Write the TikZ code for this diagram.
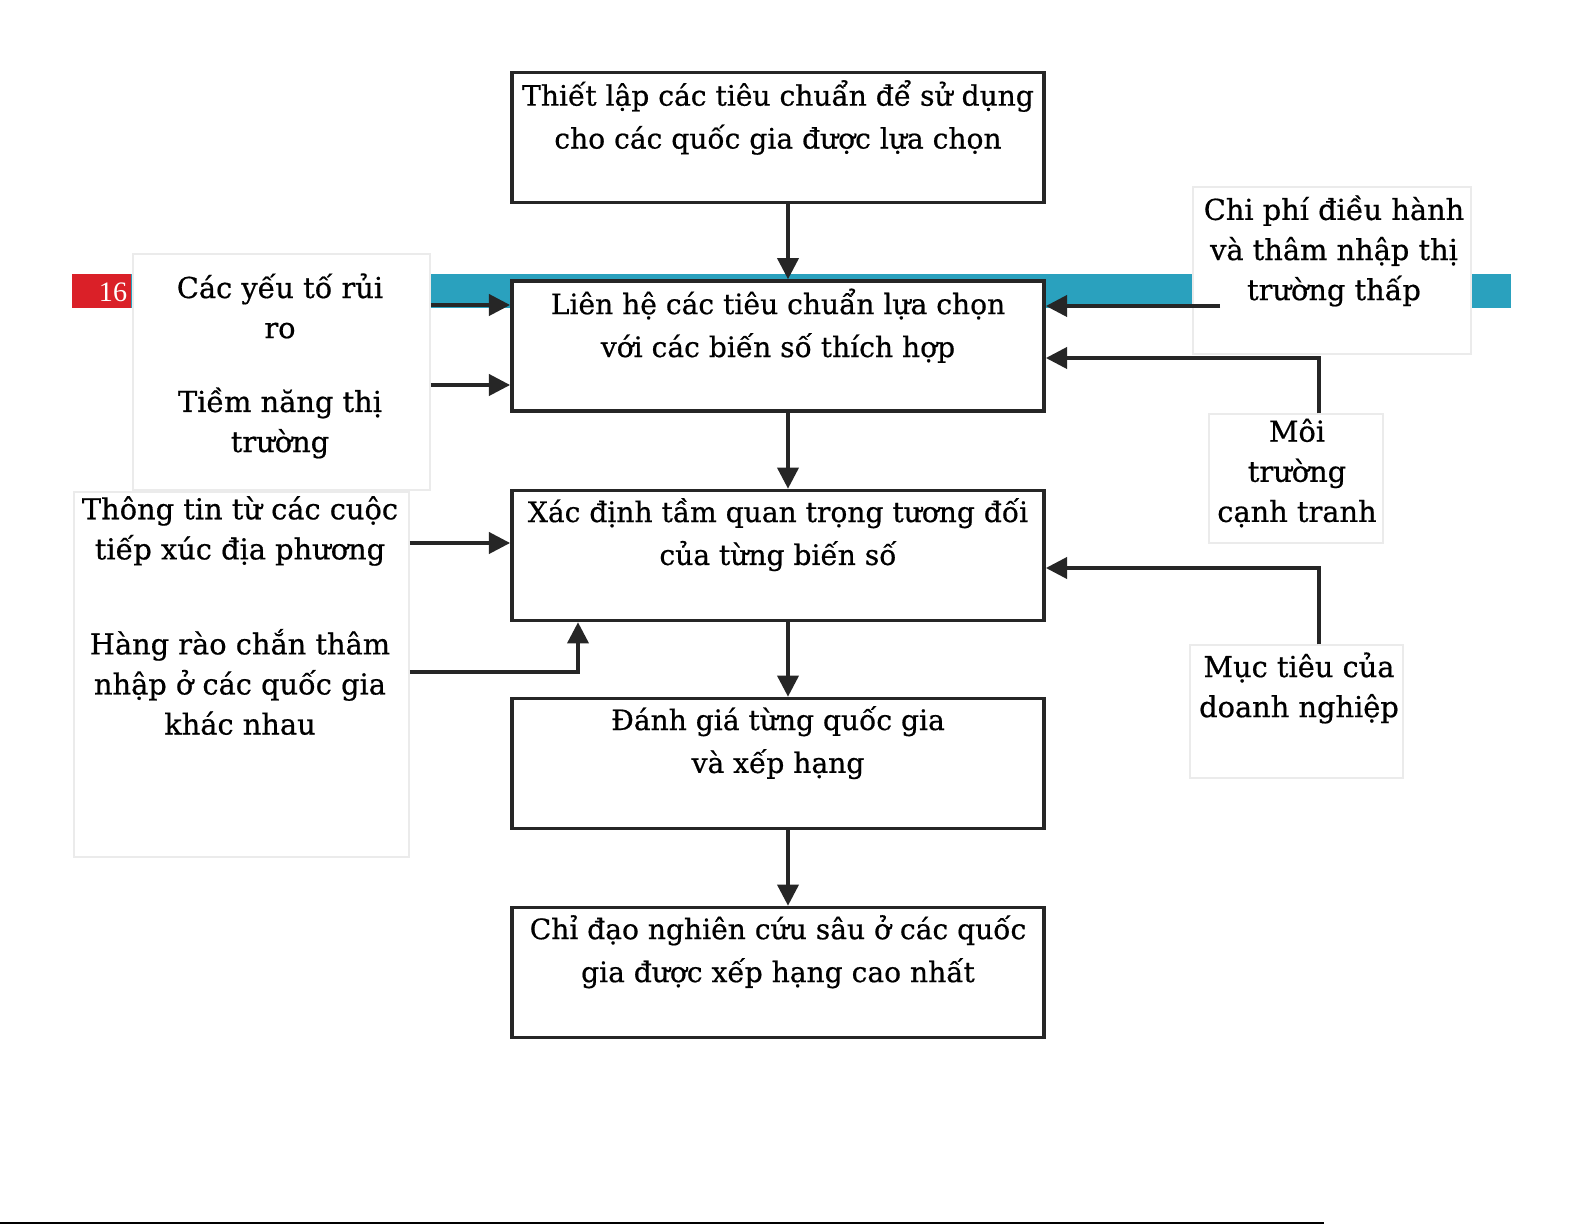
\documentclass[tikz,border=0pt]{standalone}
\usepackage{fontspec}
\setmainfont{DejaVu Serif}[UprightFeatures={FakeBold=0.6}]
\newfontfamily\pagenofont{Liberation Serif}
\usetikzlibrary{arrows.meta,positioning}
\definecolor{bandteal}{RGB}{42,161,190}
\definecolor{pagered}{RGB}{218,32,40}

\tikzset{
  stepbox/.style={draw=black!85, line width=1pt, fill=white,
    minimum width=5.32cm, minimum height=1.30cm},
  sidebox/.style={draw=black!8, line width=0.4pt, fill=white},
  boxtext/.style={anchor=north, align=center, inner sep=2.5pt,
    font=\fontsize{8}{12.2}\selectfont},
  sidetext/.style={align=center, inner sep=0pt,
    font=\fontsize{8.2}{11.4}\selectfont},
  flow/.style={->, draw=black!85, line width=1pt}
}

\begin{document}
\begin{tikzpicture}[x=0.01cm, y=-0.01cm, >={Triangle[length=6pt,width=6pt]}]

    %% Background
    \useasboundingbox (0,0) rectangle (1585,1225);
    \fill[white] (0,0) rectangle (1585,1225);

    % Page band
    \fill[bandteal] (131,274) rectangle (1511,308);
    \fill[pagered] (72,274) rectangle (131,308);
    \node[text=white, font=\pagenofont\fontsize{8}{9}\selectfont] (pageno) at (113,292) {16};

    % Side boxes
    \node[sidebox, minimum width=2.97cm, minimum height=2.36cm] (lb1) at (281.5,372) {};
    \node[sidebox, minimum width=3.35cm, minimum height=3.65cm] (lb2) at (241.5,674.5) {};
    \node[sidebox, minimum width=2.78cm, minimum height=1.67cm] (rb1) at (1332,270.5) {};
    \node[sidebox, minimum width=1.74cm, minimum height=1.29cm] (rb2) at (1296,478.5) {};
    \node[sidebox, minimum width=2.13cm, minimum height=1.33cm] (rb3) at (1296.5,711.5) {};

    \node[sidetext] (risk) at (280,306) {Các yếu tố rủi\\ro};
    \node[sidetext] (potential) at (280,423) {Tiềm năng thị\\trường};
    \node[sidetext] (info) at (240,531) {Thông tin từ các cuộc\\tiếp xúc địa phương};
    \node[sidetext] (barrier) at (240,682) {Hàng rào chắn thâm\\nhập ở các quốc gia\\khác nhau};
    \node[sidetext] (cost) at (1334,251) {Chi phí điều hành\\và thâm nhập thị\\trường thấp};
    \node[sidetext] (compet) at (1297,473) {Môi\\trường\\cạnh tranh};
    \node[sidetext] (goal) at (1299,688) {Mục tiêu của\\doanh nghiệp};

    % Main steps
    \node[stepbox] (b1) at (778,137.5) {};
    \node[stepbox] (b2) at (778,346) {};
    \node[stepbox] (b3) at (778,555.5) {};
    \node[stepbox] (b4) at (778,763.5) {};
    \node[stepbox] (b5) at (778,972.5) {};

    \node[boxtext] (t1) at (b1.north) {Thiết lập các tiêu chuẩn để sử dụng\\cho các quốc gia được lựa chọn};
    \node[boxtext] (t2) at (b2.north) {Liên hệ các tiêu chuẩn lựa chọn\\với các biến số thích hợp};
    \node[boxtext] (t3) at (b3.north) {Xác định tầm quan trọng tương đối\\của từng biến số};
    \node[boxtext] (t4) at (b4.north) {Đánh giá từng quốc gia\\và xếp hạng};
    \node[boxtext] (t5) at (b5.north) {Chỉ đạo nghiên cứu sâu ở các quốc\\gia được xếp hạng cao nhất};

    % Vertical flow
    \coordinate (spine) at (788,0);
    \foreach \a/\b in {b1/b2,b2/b3,b3/b4,b4/b5}
    {
    \draw[flow] (\a.south -| spine) -- (\b.north -| spine);
    }

    % Inputs from the left
    \draw[flow] (lb1.east |- 0,305) -- (b2.west |- 0,305);
    \draw[flow] (lb1.east |- 0,385) -- (b2.west |- 0,385);
    \draw[flow] (lb2.east |- 0,543) -- (b3.west |- 0,543);
    \draw[flow] (lb2.east |- 0,672) -| (b3.south -| 578,0);

    % Inputs from the right
    \coordinate (costtail) at (1220,306);
    \draw[flow] (costtail) -- (b2.east |- costtail);
    \draw[flow] (rb2.north -| 1319,0) |- (b2.east |- 0,358);
    \draw[flow] (rb3.north -| 1319,0) |- (b3.east |- 0,568);

    % Page rule
    \draw[line width=0.8pt] (0,1223) -- (1324,1223);

\end{tikzpicture}
\end{document}
